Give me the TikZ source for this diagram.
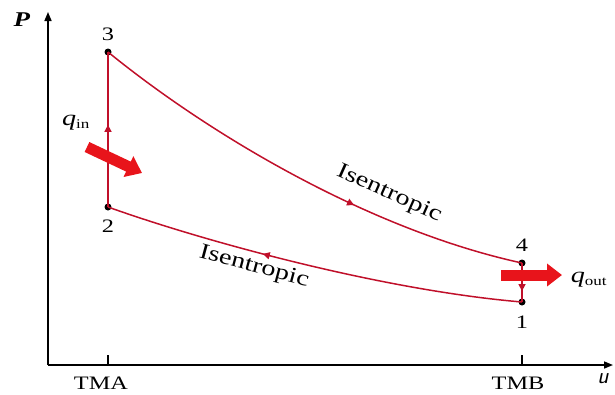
\documentclass[tikz,border=0pt]{standalone}
\usepackage{fontspec}
\setmainfont[FakeStretch=1.28]{Liberation Serif}
\usetikzlibrary{arrows.meta,decorations.markings}
\definecolor{cyc}{HTML}{C0102A}
\definecolor{heat}{HTML}{E8141B}
\tikzset{
  axis/.style={line width=1.6pt,-{Triangle[length=9pt,width=7pt]}},
  proc/.style={cyc,line width=1.5pt},
  dot/.style={circle,fill=black,inner sep=0pt,minimum size=7pt},
  lbl/.style={inner sep=1pt},
  isolbl/.style={inner sep=1pt,font=\fontsize{22}{24}\selectfont},
  mk/.style={postaction={decorate},decoration={markings,mark=at position #1 with {\arrow{Triangle[length=7pt,width=7pt]}}}},
  bigarrow/.style={heat,line width=11pt,-{Triangle[length=15pt,width=22pt]}},
  tick/.style={line width=1.6pt}
}
\begin{document}
\begin{tikzpicture}[x=1pt,y=-1pt,font=\fontsize{19}{22}\selectfont]
\useasboundingbox (0,0) rectangle (615,394);
% axes
\coordinate (O) at (48,365);
\coordinate (ytip) at (48,12);
\coordinate (xtip) at (613,365);
\draw[axis] (O) -- (ytip);
\draw[axis] (O) -- (xtip);
\node[lbl,font=\fontsize{21}{24}\selectfont] (P) at (22,20) {\textbf{\textit{P}}};
\node[lbl,font=\fontsize{23}{26}\selectfont] (u) at (603,379) {\sffamily\textit{u}};
% ticks
\coordinate (ta) at (108,365);
\coordinate (tb) at (522,365);
\draw[tick] (ta) -- ++(0,-10);
\draw[tick] (tb) -- ++(0,-10);
\node[lbl] (TMA) at (101,383) {TMA};
\node[lbl] (TMB) at (518,383) {TMB};
% state points
\node[dot] (p3) at (108,52) {};
\node[dot] (p2) at (108,207) {};
\node[dot] (p4) at (522,263) {};
\node[dot] (p1) at (522,302) {};
\node[lbl] (l3) at (108,34) {3};
\node[lbl] (l2) at (108,226) {2};
\node[lbl] (l4) at (522,245) {4};
\node[lbl] (l1) at (522,322) {1};
% processes
\draw[proc,mk=0.53] (p2.center) -- (p3.center);
\draw[proc,mk=0.62] (p3.center) .. controls (210,135) and (370,230) .. (p4.center);
\draw[proc,mk=0.72] (p4.center) -- (p1.center);
\draw[proc,mk=0.62] (p1.center) .. controls (380,290) and (200,240) .. (p2.center);
\node[isolbl,rotate=-24] (iso1) at (389,194) {Isentropic};
\node[isolbl,rotate=-15] (iso2) at (254,267) {Isentropic};
% heat arrows
\coordinate (qa) at (87,147);
\coordinate (qb) at (142,173);
\draw[bigarrow] (qa) -- (qb);
\node[lbl] (qin) at (76,123) {{\fontsize{22}{24}\selectfont\textit{q}}\textsubscript{in}};
\coordinate (qc) at (501,275);
\coordinate (qd) at (562,275);
\draw[bigarrow] (qc) -- (qd);
\node[lbl] (qout) at (589,280) {{\fontsize{22}{24}\selectfont\textit{q}}\textsubscript{out}};
\end{tikzpicture}
\end{document}
